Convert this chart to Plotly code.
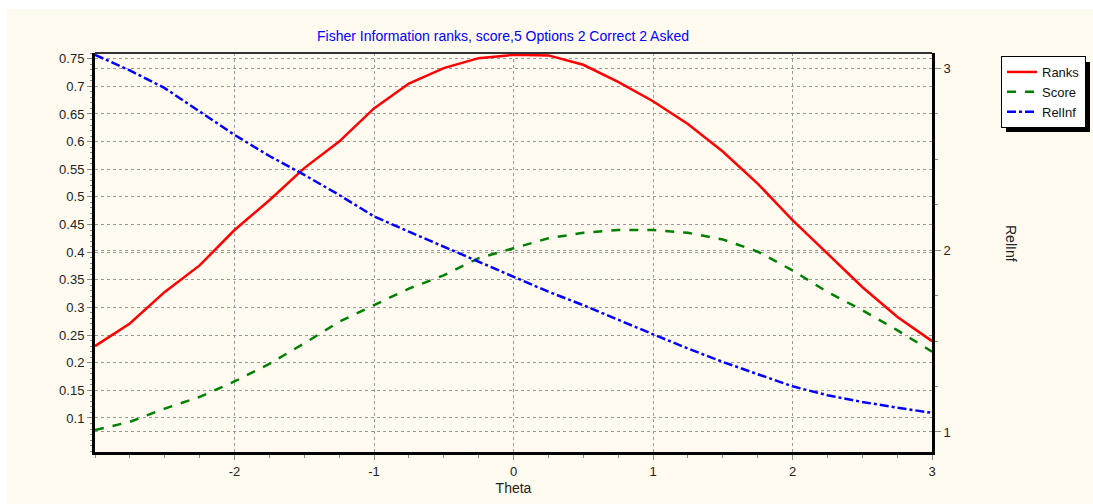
import plotly.graph_objects as go

theta = [-3, -2.75, -2.5, -2.25, -2, -1.75, -1.5, -1.25, -1, -0.75, -0.5, -0.25,
         0, 0.25, 0.5, 0.75, 1, 1.25, 1.5, 1.75, 2, 2.25, 2.5, 2.75, 3]
ranks = [0.230, 0.271, 0.328, 0.376, 0.440, 0.494, 0.552, 0.600, 0.660, 0.705, 0.733, 0.751,
         0.757, 0.756, 0.739, 0.708, 0.673, 0.632, 0.582, 0.524, 0.458, 0.398, 0.337, 0.283, 0.239]
score = [0.078, 0.093, 0.117, 0.138, 0.166, 0.198, 0.235, 0.274, 0.304, 0.334, 0.358, 0.389,
         0.407, 0.425, 0.435, 0.440, 0.440, 0.435, 0.423, 0.401, 0.367, 0.328, 0.295, 0.259, 0.220]
relinf = [3.073, 2.987, 2.890, 2.761, 2.633, 2.517, 2.413, 2.303, 2.185, 2.101, 2.018, 1.936,
          1.853, 1.771, 1.697, 1.615, 1.537, 1.459, 1.385, 1.318, 1.251, 1.202, 1.165, 1.134, 1.105]

x_ticks = [-2, -1, 0, 1, 2, 3]
x_tick_text = ["-2", "-1", "0", "1", "2", "3"]
y_ticks = [0.1, 0.15, 0.2, 0.25, 0.3, 0.35, 0.4, 0.45, 0.5, 0.55, 0.6, 0.65, 0.7, 0.75]
y_tick_text = ["0.1", "0.15", "0.2", "0.25", "0.3", "0.35", "0.4", "0.45", "0.5", "0.55",
               "0.6", "0.65", "0.7", "0.75"]
y2_ticks = [1, 2, 3]
y2_tick_text = ["1", "2", "3"]

title_text = "Fisher Information ranks, score,5 Options 2 Correct 2 Asked"

FONT = "Liberation Sans, Arial, sans-serif"
CREAM = "#FFFAF0"
GRID = "#999999"

# plot-area pixel geometry (for paper-coordinate conversion)
PL, PR, PT, PB = 95, 932, 53, 452
PW, PH = PR - PL, PB - PT


def px(x):
    return (x - PL) / PW


def py(y):
    return (PB - y) / PH


fig = go.Figure()
fig.add_trace(go.Scatter(x=theta, y=ranks, name="Ranks", mode="lines",
                         line=dict(color="#FF0000", width=2.5)))
fig.add_trace(go.Scatter(x=theta, y=score, name="Score", mode="lines",
                         line=dict(color="#008000", width=2.5, dash="dash")))
fig.add_trace(go.Scatter(x=theta, y=relinf, name="RelInf", mode="lines", yaxis="y2",
                         line=dict(color="#0000FF", width=2.5, dash="dashdot")))

fig.update_layout(
    width=1093, height=504,
    margin=dict(l=PL, r=1093 - PR, t=PT, b=504 - PB, autoexpand=False),
    paper_bgcolor="white",
    plot_bgcolor=CREAM,
    font=dict(family=FONT, size=13, color="#222222"),
    title=dict(text=title_text, x=503 / 1093, xanchor="center",
               y=1 - 36 / 504, yanchor="middle",
               font=dict(family=FONT, size=14, color="#0000FF")),
    xaxis=dict(range=[-3, 3], tickvals=x_ticks, ticktext=x_tick_text,
               ticks="outside", ticklen=5,
               tickcolor="#888888", showline=True, linecolor="black", linewidth=3,
               mirror=False, showgrid=True, gridcolor=GRID, griddash="dot", gridwidth=1,
               zeroline=False,
               minor=dict(dtick=0.25, ticks="outside", ticklen=3, tickcolor="#888888", showgrid=False),
               title=dict(text="Theta", font=dict(size=14), standoff=6)),
    yaxis=dict(range=[0.0384, 0.7603], tickvals=y_ticks, ticktext=y_tick_text,
               ticks="outside", ticklen=5, tickcolor="#888888",
               showline=True, linecolor="black", linewidth=3,
               showgrid=True, gridcolor=GRID, griddash="dot", gridwidth=1, zeroline=False,
               minor=dict(dtick=0.01, ticks="outside", ticklen=2, tickcolor="#888888", showgrid=False)),
    yaxis2=dict(range=[0.89, 3.083], overlaying="y", side="right", tickvals=y2_ticks,
                ticktext=y2_tick_text,
                ticks="outside", ticklen=6, tickcolor="#888888",
                showline=True, linecolor="black", linewidth=3,
                showgrid=True, gridcolor=GRID, griddash="dot", gridwidth=1, zeroline=False,
                minor=dict(dtick=0.25, ticks="outside", ticklen=3, tickcolor="#888888", showgrid=False)),
    legend=dict(x=px(1001), y=py(56), xanchor="left", yanchor="top",
                bgcolor="white", bordercolor="black", borderwidth=1,
                font=dict(family=FONT, size=13, color="#111111"),
                itemwidth=30, tracegroupgap=0),
    showlegend=True,
)

# cream page background (white strip at left/top), top border
fig.add_shape(type="rect", xref="paper", yref="paper",
              x0=px(7), x1=px(1100), y0=py(510), y1=py(9),
              fillcolor=CREAM, line=dict(width=0), layer="below")
fig.add_shape(type="line", xref="paper", yref="paper", x0=0, x1=1, y0=1, y1=1,
              line=dict(color="#333333", width=2))
# legend drop shadow (sits behind the legend box)
fig.add_shape(type="rect", xref="paper", yref="paper",
              x0=px(1006), x1=px(1090), y0=py(132), y1=py(62),
              fillcolor="black", line=dict(width=0), layer="above")

fig.add_annotation(text="RelInf", xref="paper", yref="paper",
                   x=px(1011), y=py(243), xanchor="center", yanchor="middle",
                   textangle=90, showarrow=False,
                   font=dict(family=FONT, size=14, color="#222222"))

fig.write_html("out.html")
